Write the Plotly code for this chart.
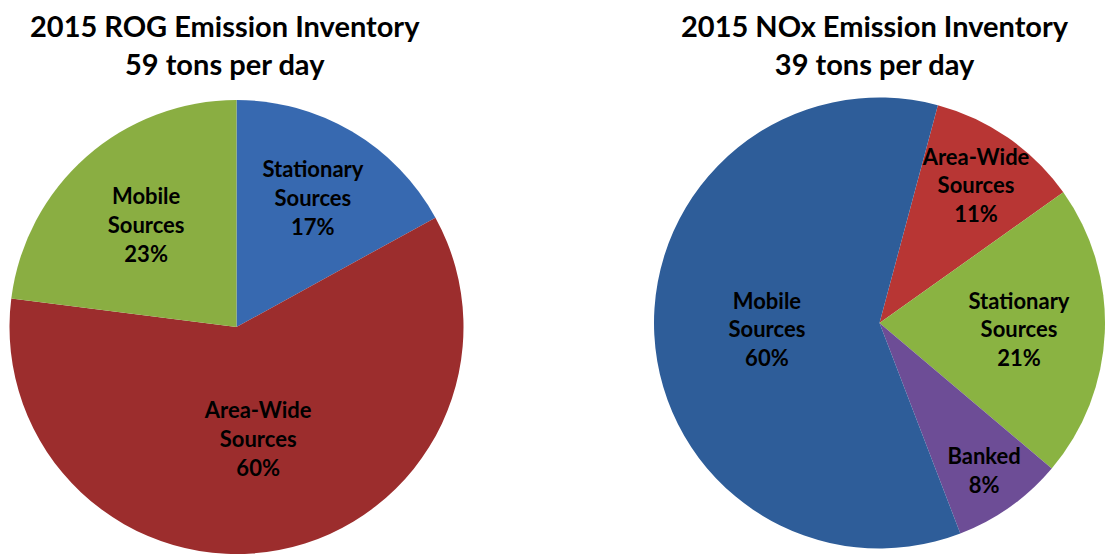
import plotly.graph_objects as go

# ROG inventory, 59 tons per day
rog_labels = ["Stationary<br>Sources", "Area-Wide<br>Sources", "Mobile<br>Sources"]
rog_values = [17, 60, 23]
rog_colors = ["#3769b0", "#9c2d2d", "#8aae42"]

# NOx inventory, 39 tons per day
nox_labels = ["Area-Wide<br>Sources", "Stationary<br>Sources", "Banked", "Mobile<br>Sources"]
nox_values = [11, 21, 8, 60]
nox_colors = ["#b83634", "#8ab342", "#6d4d96", "#2e5d99"]

W, H = 1105, 554
font = "Lato"

fig = go.Figure()

fig.add_trace(go.Pie(
    labels=rog_labels, values=rog_values, sort=False, direction="clockwise", rotation=0,
    marker=dict(colors=rog_colors, line=dict(width=0)),
    texttemplate="%{label}<br>%{percent:.0%}", textposition="inside",
    insidetextorientation="horizontal",
    textfont=dict(family=font, size=22, color="black", weight="bold"),
    domain=dict(x=[9 / W, 464 / W], y=[0, 1 - 100 / H]),
    showlegend=False, hoverinfo="label+percent",
))

fig.add_trace(go.Pie(
    labels=nox_labels, values=nox_values, sort=False, direction="clockwise", rotation=15,
    marker=dict(colors=nox_colors, line=dict(width=0)),
    texttemplate="%{label}<br>%{percent:.0%}", textposition="inside",
    insidetextorientation="horizontal",
    textfont=dict(family=font, size=22, color="black", weight="bold"),
    domain=dict(x=[654 / W, 1.0], y=[3 / H, 1 - 95 / H]),
    showlegend=False, hoverinfo="label+percent",
))

titles = [
    ("2015 ROG Emission Inventory<br>59 tons per day", 225),
    ("2015 NOx Emission Inventory<br>39 tons per day", 875),
]
for txt, xc in titles:
    fig.add_annotation(
        text=txt, x=xc / W, y=1 - 6 / H, xref="paper", yref="paper",
        xanchor="center", yanchor="top", showarrow=False,
        font=dict(family=font, size=29, color="black", weight="bold"),
    )

fig.update_layout(
    width=W, height=H,
    margin=dict(l=0, r=0, t=0, b=0),
    paper_bgcolor="white", plot_bgcolor="white",
    uniformtext=dict(minsize=22, mode="show"),
)

# drop the browser's default page margin so the figure sits at 0,0
fig.write_html("out.html", config={"displayModeBar": False},
               post_script="document.body.style.margin='0';")
